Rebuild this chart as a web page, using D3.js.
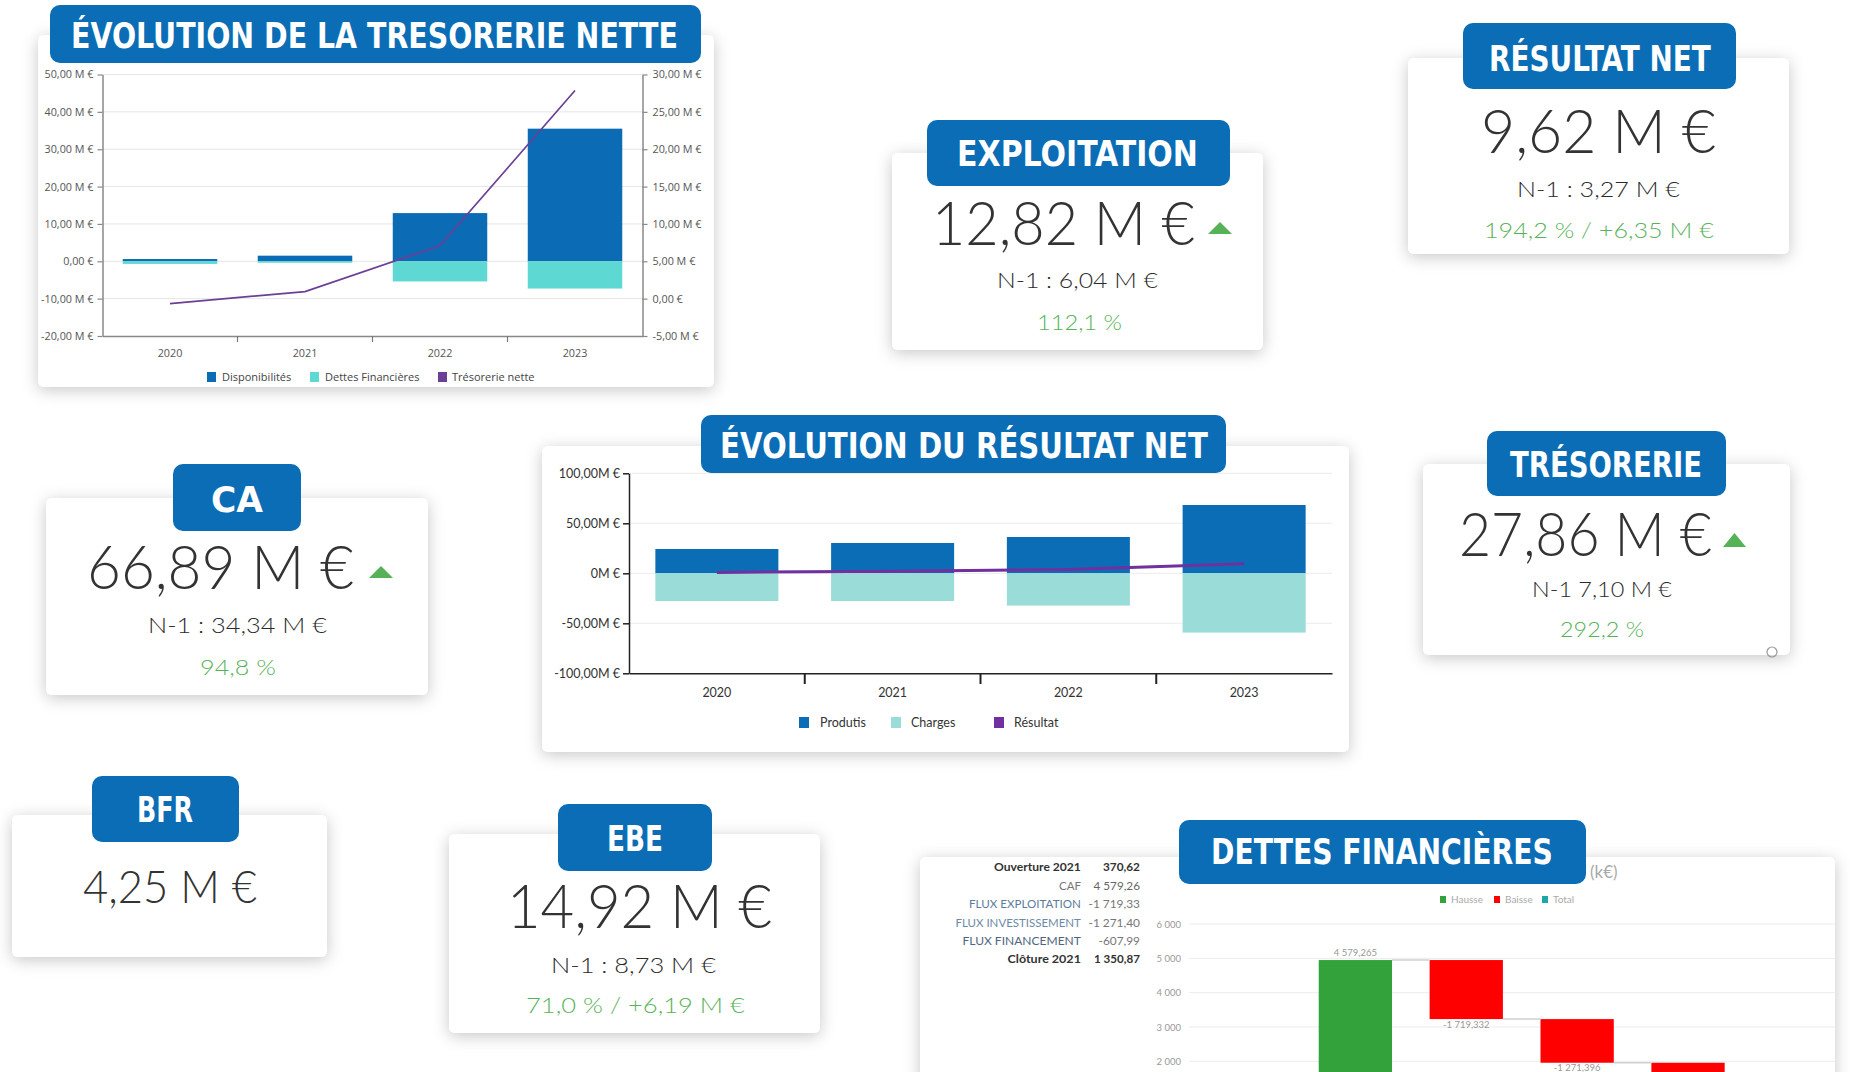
<!DOCTYPE html>
<html><head><meta charset="utf-8">
<script src="https://cdnjs.cloudflare.com/ajax/libs/d3/7.8.5/d3.min.js"></script>
<style>
html,body{margin:0;padding:0;background:#fff;overflow:hidden;}
svg{display:block;}
</style></head><body>
<script>
// ================= DATA =================
const years = ["2020", "2021", "2022", "2023"];

// Évolution de la trésorerie nette (M€)
const disponibilites = [0.6, 1.5, 12.9, 35.5];
const dettesFinancieres = [-0.7, -0.4, -5.4, -7.3];
const tresorerieNette = [-0.66, 0.94, 7.10, 27.86];
const tresoLeftTicks = [-20, -10, 0, 10, 20, 30, 40, 50];
const tresoRightTicks = [-5, 0, 5, 10, 15, 20, 25, 30];
const tresoLegend = ["Disponibilités", "Dettes Financières", "Trésorerie nette"];

// Évolution du résultat net (M€)
const produits = [24.3, 30.3, 36.3, 68.3];
const charges = [-27.7, -27.7, -32.3, -59.3];
const resultat = [0.9, 2.0, 3.9, 9.62];
const resultatTicks = [-100, -50, 0, 50, 100];
const resultatLegend = ["Produtis", "Charges", "Résultat"];

// Dettes financières – waterfall (k€)
const fluxCategories = ["Ouverture 2021", "CAF", "FLUX EXPLOITATION", "FLUX INVESTISSEMENT", "FLUX FINANCEMENT", "Clôture 2021"];
const fluxValues = [370.62, 4579.265, -1719.332, -1271.396, -607.99, 1350.87];
const fluxTypes = ["total", "hausse", "baisse", "baisse", "baisse", "total"];
const fluxTableValues = ["370,62", "4 579,26", "-1 719,33", "-1 271,40", "-607,99", "1 350,87"];
const fluxTicks = [0, 1000, 2000, 3000, 4000, 5000, 6000];
const fluxLegend = ["Hausse", "Baisse", "Total"];
const fluxTitle = "(k€)";

// KPI cards
const kpiTitles = ["EXPLOITATION", "RÉSULTAT NET", "CA", "TRÉSORERIE", "BFR", "EBE"];
const kpiValues = ["12,82 M €", "9,62 M €", "66,89 M €", "27,86 M €", "4,25 M €", "14,92 M €"];
const kpiPrevious = ["N-1 : 6,04 M €", "N-1 : 3,27 M €", "N-1 : 34,34 M €", "N-1 7,10 M €", "", "N-1 : 8,73 M €"];
const kpiChange = ["112,1 %", "194,2 % / +6,35 M €", "94,8 %", "292,2 %", "", "71,0 % / +6,19 M €"];
const kpiUp = [true, false, true, true, false, false];

// ================= LAYOUT =================
const W = 1850, H = 1072;
const BLUE = "#0a6db5";
const TITLE_FONT = "'DejaVu Sans Condensed','Liberation Sans Narrow','DejaVu Sans',sans-serif";
const NUM_FONT = "Lato,'Open Sans',sans-serif";
const AX_FONT = "'Open Sans','Noto Sans',sans-serif";

const kpiLayout = [
  {card:[892,153,371,197], banner:[927,120,303,66], title:[957,1198,166], value:[932,1195,245], prev:[997,1158,288], change:[1037,1122,330], tri:[1208,1232,222,234]},
  {card:[1408,58,381,196], banner:[1463,23,273,66], title:[1489,1711,71], value:[1481,1716,153], prev:[1517,1680,197], change:[1484,1714,238]},
  {card:[46,498,382,197], banner:[173,464,128,67], title:[211,263,512], value:[87,354,589], prev:[148,327,633], change:[200,276,675], tri:[369,393,566,578]},
  {card:[1423,464,367,191], banner:[1487,431,239,65], title:[1510,1702,477], value:[1459,1712,556], prev:[1532,1672,597], change:[1560,1644,637], tri:[1723,1746,533,547]},
  {card:[12,815,315,142], banner:[92,776,147,66], title:[137,193,822], value:[83,257,903], valueSize:46},
  {card:[449,834,371,199], banner:[558,804,154,67], title:[607,663,851], value:[507,772,928], prev:[551,716,973], change:[526,745,1013]}
];

const fr = d3.formatLocale({decimal: ",", thousands: "\u00a0", grouping: [3], currency: ["", "€"], minus: "-"});

const svg = d3.select("body").append("svg").attr("width", W).attr("height", H);
const defs = svg.append("defs");
defs.append("filter").attr("id", "sh").attr("x", "-10%").attr("y", "-20%").attr("width", "120%").attr("height", "150%")
  .append("feDropShadow").attr("dx", 0).attr("dy", 3).attr("stdDeviation", 8)
  .attr("flood-color", "#000").attr("flood-opacity", 0.22);

const layerCards = svg.append("g");
const layerContent = svg.append("g");
const layerBanners = svg.append("g");

function card([x, y, w, h]) {
  layerCards.append("rect").attr("x", x).attr("y", y).attr("width", w).attr("height", h)
    .attr("rx", 6).attr("fill", "#fff").attr("filter", "url(#sh)");
}
// text stretched horizontally to span x1..x2 (measured, then scaled via transform)
function fitText(g, txt, x1, x2, bl, size, font, fill, weight) {
  const t = g.append("text").attr("x", 0).attr("y", 0)
    .attr("font-family", font).attr("font-size", size).attr("font-weight", weight || "normal")
    .attr("fill", fill).text(txt);
  const nat = t.node().getComputedTextLength() || (x2 - x1);
  const sx = (x2 - x1) / nat;
  t.attr("transform", `translate(${x1},${bl}) scale(${sx},1)`);
  return t;
}
function banner([x, y, w, h], txt, [t1, t2, bl], size) {
  layerBanners.append("rect").attr("x", x).attr("y", y).attr("width", w).attr("height", h)
    .attr("rx", 10).attr("fill", BLUE);
  fitText(layerBanners, txt, t1, t2, bl, size || 35, TITLE_FONT, "#fff", "bold");
}

// ================= KPI CARDS =================
kpiTitles.forEach((t, i) => {
  const L = kpiLayout[i];
  card(L.card);
  banner(L.banner, t, L.title);
  fitText(layerContent, kpiValues[i], L.value[0], L.value[1], L.value[2], L.valueSize || 61, NUM_FONT, "#333", 300);
  if (kpiPrevious[i]) fitText(layerContent, kpiPrevious[i], L.prev[0], L.prev[1], L.prev[2], 21, NUM_FONT, "#2a2a2a", 300);
  if (kpiChange[i]) fitText(layerContent, kpiChange[i], L.change[0], L.change[1], L.change[2], 21, NUM_FONT, "#58b358", 300);
  if (kpiUp[i] && L.tri) {
    const [a, b, t0, t1] = L.tri;
    layerContent.append("path").attr("d", `M${a},${t1}L${b},${t1}L${(a+b)/2},${t0}Z`).attr("fill", "#56b257");
  }
});
// small icon in trésorerie card
layerContent.append("circle").attr("cx", 1772).attr("cy", 652).attr("r", 5).attr("fill", "none").attr("stroke", "#999").attr("stroke-width", 1.2);

// ================= CHART 1: trésorerie nette =================
card([38, 35, 676, 352]);
banner([50, 5, 651, 58], "ÉVOLUTION DE LA TRESORERIE NETTE", [71, 678, 48], 36);
{
  const g = layerContent.append("g");
  const x = d3.scaleBand().domain(years).range([102.5, 642.5]).paddingInner(0.3).paddingOuter(0.15);
  const yL = d3.scaleLinear().domain([-20, 50]).range([336, 74.5]);
  const yR = d3.scaleLinear().domain([-5, 30]).range([336, 74.5]);
  const fmtM = v => v === 0 ? "0,00 €" : fr.format(",.2f")(v) + " M €";

  g.selectAll(".grid").data(tresoLeftTicks.filter(v => v !== -20)).join("line")
    .attr("x1", 102.5).attr("x2", 642.5).attr("y1", d => yL(d)).attr("y2", d => yL(d))
    .attr("stroke", "#e6e6e6").attr("stroke-width", 1);

  const bw = x.bandwidth();
  g.selectAll(".disp").data(disponibilites).join("rect")
    .attr("x", (d, i) => x(years[i])).attr("width", bw)
    .attr("y", d => yL(Math.max(0, d))).attr("height", d => Math.abs(yL(d) - yL(0)))
    .attr("fill", "#0b6cb5");
  g.selectAll(".dette").data(dettesFinancieres).join("rect")
    .attr("x", (d, i) => x(years[i])).attr("width", bw)
    .attr("y", d => yL(Math.max(0, d))).attr("height", d => Math.abs(yL(d) - yL(0)))
    .attr("fill", "#5ed8d2");

  const line = d3.line().x((d, i) => x(years[i]) + bw / 2).y(d => yR(d));
  g.append("path").attr("d", line(tresorerieNette)).attr("fill", "none")
    .attr("stroke", "#6b3f96").attr("stroke-width", 1.7);

  const styleAxis = (sel, col) => {
    sel.select(".domain").attr("stroke", col).attr("stroke-width", 1.5);
    sel.selectAll(".tick line").attr("stroke", col).attr("stroke-width", 1.2);
    sel.selectAll(".tick text").attr("font-family", AX_FONT).attr("font-size", 10.8).attr("fill", "#555");
  };
  const aL = g.append("g").attr("transform", "translate(102.5,0)")
    .call(d3.axisLeft(yL).tickValues(tresoLeftTicks).tickSize(5).tickSizeOuter(0).tickPadding(4).tickFormat(fmtM));
  styleAxis(aL, "#888");
  const aR = g.append("g").attr("transform", "translate(642.5,0)")
    .call(d3.axisRight(yR).tickValues(tresoRightTicks).tickSize(5).tickSizeOuter(0).tickPadding(5).tickFormat(fmtM));
  styleAxis(aR, "#888");
  const aB = g.append("g").attr("transform", "translate(0,336)")
    .call(d3.axisBottom(x).tickSize(0).tickSizeOuter(0).tickPadding(13));
  styleAxis(aB, "#888");
  years.slice(1).forEach(yr => {
    const bx = x(yr) - x.step() * x.paddingInner() / 2;
    g.append("line").attr("x1", bx).attr("x2", bx).attr("y1", 336).attr("y2", 342).attr("stroke", "#777").attr("stroke-width", 1.2);
  });

  const legX = [207, 310, 438], legTX = [222, 325, 452], legC = ["#0b6cb5", "#5ed8d2", "#6b3f96"];
  tresoLegend.forEach((t, i) => {
    g.append("rect").attr("x", legX[i]).attr("y", 372).attr("width", 9).attr("height", 10).attr("fill", legC[i]);
    g.append("text").attr("x", legTX[i]).attr("y", 381).attr("font-family", AX_FONT).attr("font-size", 11).attr("fill", "#444").text(t);
  });
}

// ================= CHART 2: résultat net =================
card([542, 446, 807, 306]);
banner([701, 415, 525, 58], "ÉVOLUTION DU RÉSULTAT NET", [720, 1208, 458], 36);
{
  const g = layerContent.append("g");
  const x = d3.scaleBand().domain(years).range([629, 1332]).paddingInner(0.3).paddingOuter(0.15);
  const y = d3.scaleLinear().domain([-100, 100]).range([673.3, 473.3]);
  const bw = x.bandwidth();

  g.selectAll(".grid").data(resultatTicks.filter(v => v !== -100)).join("line")
    .attr("x1", 629).attr("x2", 1332).attr("y1", d => y(d)).attr("y2", d => y(d))
    .attr("stroke", "#ececec").attr("stroke-width", 1);

  g.selectAll(".prod").data(produits).join("rect")
    .attr("x", (d, i) => x(years[i])).attr("width", bw)
    .attr("y", d => y(Math.max(0, d))).attr("height", d => Math.abs(y(d) - y(0))).attr("fill", "#0a6db5");
  g.selectAll(".chg").data(charges).join("rect")
    .attr("x", (d, i) => x(years[i])).attr("width", bw)
    .attr("y", d => y(Math.max(0, d))).attr("height", d => Math.abs(y(d) - y(0))).attr("fill", "#9adcd7");

  const line = d3.line().x((d, i) => x(years[i]) + bw / 2).y(d => y(d));
  g.append("path").attr("d", line(resultat)).attr("fill", "none").attr("stroke", "#7030a0").attr("stroke-width", 3);

  const fmt = v => v === 0 ? "0M €" : fr.format(",.2f")(v) + "M €";
  const aL = g.append("g").attr("transform", "translate(629,0)")
    .call(d3.axisLeft(y).tickValues(resultatTicks).tickSize(6).tickSizeOuter(0).tickPadding(3).tickFormat(fmt));
  aL.select(".domain").attr("stroke", "#222").attr("stroke-width", 1.5);
  aL.selectAll(".tick line").attr("stroke", "#222").attr("stroke-width", 1.5);
  aL.selectAll(".tick text").attr("font-family", NUM_FONT).attr("font-size", 12.5).attr("fill", "#333");

  const aB = g.append("g").attr("transform", "translate(0,673.3)")
    .call(d3.axisBottom(x).tickSize(0).tickSizeOuter(0).tickPadding(15));
  aB.select(".domain").attr("stroke", "#222").attr("stroke-width", 1.5);
  aB.selectAll(".tick text").attr("font-family", NUM_FONT).attr("font-size", 12.5).attr("fill", "#333");
  years.slice(1).forEach(yr => {
    const bx = x(yr) - x.step() * x.paddingInner() / 2;
    g.append("line").attr("x1", bx).attr("x2", bx).attr("y1", 673).attr("y2", 684).attr("stroke", "#222").attr("stroke-width", 2);
  });

  const legX = [799, 891, 994], legTX = [820, 911, 1014], legC = ["#0a6db5", "#9adcd7", "#7030a0"];
  resultatLegend.forEach((t, i) => {
    g.append("rect").attr("x", legX[i]).attr("y", 717).attr("width", 10).attr("height", 11).attr("fill", legC[i]);
    g.append("text").attr("x", legTX[i]).attr("y", 727).attr("font-family", NUM_FONT).attr("font-size", 12.5).attr("fill", "#333").text(t);
  });
}

// ================= CHART 3: dettes financières (waterfall) =================
card([920, 857, 915, 260]);
{
  const g = layerContent.append("g");
  g.append("text").attr("x", 1590).attr("y", 878).attr("font-family", NUM_FONT).attr("font-size", 17)
    .attr("fill", "#aaa").text(fluxTitle);

  // side table
  const labelW = [87, 22, 112, 125.5, 118.5, 73.5];
  const valueW = [37, 46.5, 51.5, 51.5, 41.5, 46];
  const rowBL = [871, 889.5, 908, 927, 944.5, 963];
  const labCol = ["#333", "#777", "#5a7b9c", "#6c8aa6", "#4e6580", "#333"];
  const valCol = ["#333", "#666", "#777", "#777", "#777", "#333"];
  fluxCategories.forEach((c, i) => {
    const bold = (i === 0 || i === 5) ? "bold" : "normal";
    fitText(g, c, 1081 - labelW[i], 1081, rowBL[i], 12, NUM_FONT, labCol[i], bold);
    fitText(g, fluxTableValues[i], 1140 - valueW[i], 1140, rowBL[i], 12, NUM_FONT, valCol[i], bold);
  });

  const x = d3.scaleBand().domain(fluxCategories).range([1189, 1854.4]).paddingInner(0.339).paddingOuter(0.17);
  const y = d3.scaleLinear().domain([0, 6000]).range([1130, 924]);
  const bw = x.bandwidth();

  g.selectAll(".grid").data(fluxTicks).join("line")
    .attr("x1", 1189).attr("x2", 1835).attr("y1", d => y(d)).attr("y2", d => y(d))
    .attr("stroke", "#ececec").attr("stroke-width", 1);
  const fmtTick = d3.formatLocale({decimal: ",", thousands: " ", grouping: [3], currency: ["", ""], minus: "-"}).format(",d");
  g.selectAll(".yl").data(fluxTicks.filter(d => y(d) + 4 < H)).join("text")
    .attr("x", 1181).attr("y", d => y(d) + 3.5).attr("text-anchor", "end")
    .attr("font-family", NUM_FONT).attr("font-size", 9.5).attr("fill", "#999").text(d => fmtTick(d));

  let run = 0;
  const segs = fluxValues.map((v, i) => {
    let a, b;
    if (fluxTypes[i] === "total") { a = 0; b = v; run = v; }
    else { a = run; b = run + v; run = b; }
    return {cat: fluxCategories[i], a, b, v, type: fluxTypes[i], end: run};
  });
  const colors = {hausse: "#33a23a", baisse: "#ff0000", total: "#1fa7a5"};
  g.selectAll(".wf").data(segs).join("rect")
    .attr("x", d => x(d.cat)).attr("width", bw)
    .attr("y", d => y(Math.max(d.a, d.b))).attr("height", d => Math.abs(y(d.a) - y(d.b)))
    .attr("fill", d => colors[d.type]);
  segs.slice(0, -1).forEach((d, i) => {
    g.append("line").attr("x1", x(d.cat) + bw).attr("x2", x(segs[i + 1].cat))
      .attr("y1", y(d.end)).attr("y2", y(d.end)).attr("stroke", "#d0d0d0").attr("stroke-width", 1.5);
  });
  const fmtLbl = fr.format(",.3f");
  segs.filter(d => d.type !== "total").forEach(d => {
    const top = d.v >= 0;
    const ly = top ? y(d.b) - 4 : y(d.b) + 9;
    if (ly - 6 > H) return;
    g.append("text").attr("x", x(d.cat) + bw / 2)
      .attr("y", Math.min(ly, H - 1)).attr("text-anchor", "middle")
      .attr("font-family", NUM_FONT).attr("font-size", 9.5).attr("fill", "#999")
      .text(fmtLbl(d.v).replace(/\u00a0/g, " "));
  });

  const legX = [1440, 1494, 1542], legTX = [1451, 1505, 1553], legC = ["#33a23a", "#ff0000", "#1fa7a5"];
  fluxLegend.forEach((t, i) => {
    g.append("rect").attr("x", legX[i]).attr("y", 896).attr("width", 6).attr("height", 7).attr("fill", legC[i]);
    g.append("text").attr("x", legTX[i]).attr("y", 903).attr("font-family", NUM_FONT).attr("font-size", 10).attr("fill", "#aaa").text(t);
  });
}
banner([1179, 820, 407, 64], "DETTES FINANCIÈRES", [1211, 1553, 864], 36);
</script>
</body></html>
